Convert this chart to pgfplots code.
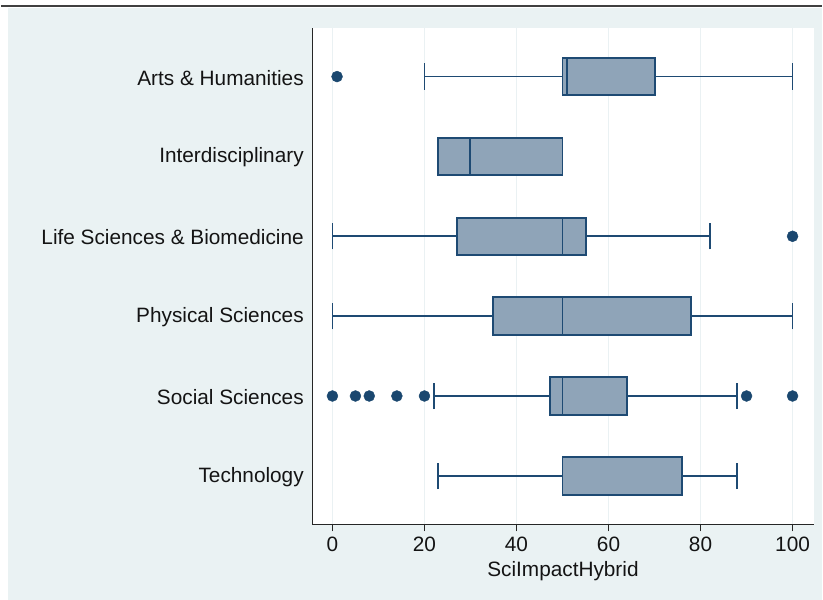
\documentclass[border=0pt]{standalone}
\usepackage{pgfplots}
\usepgfplotslibrary{statistics}
\pgfplotsset{compat=1.18}
\usepackage{fontspec}
\setmainfont{Liberation Sans}

\definecolor{bgc}{RGB}{234,242,243}
\definecolor{gridc}{RGB}{234,241,243}
\definecolor{edgec}{RGB}{30,74,115}
\definecolor{boxc}{RGB}{143,164,184}
\definecolor{dotc}{RGB}{26,71,111}

\begin{document}
\begin{tikzpicture}
% page and Stata-style outer region
\fill[white] (0,0) rectangle (823bp,601bp);
\fill[bgc] (7bp,0) rectangle (823bp,592.6bp);
\draw[line width=1.6bp, color=black!75] (0,594.8bp) -- (823bp,594.8bp);

\begin{axis}[
    at={(312bp,75.5bp)},
    anchor=south west,
    scale only axis,
    width=502.5bp,
    height=497.4bp,
    xmin=-4.40, xmax=104.6,
    ymin=0.391, ymax=6.608,
    axis x line*=bottom,
    axis y line*=left,
    axis line style={line width=0.9bp, color=black!85},
    axis background/.style={fill=white},
    xtick={0,20,40,60,80,100},
    ytick={1,2,3,4,5,6},
    yticklabels={Technology, Social Sciences, Physical Sciences, Life Sciences \& Biomedicine, Interdisciplinary, Arts \& Humanities},
    tick align=outside,
    major tick length=7bp,
    xtick style={line width=0.9bp, color=black!85},
    ytick style={draw=none},
    xmajorgrids,
    grid style={line width=1bp, color=gridc},
    tick label style={font=\fontsize{20.9}{24}\selectfont, text=black!92},
    xticklabel style={yshift=-2bp},
    yticklabel style={xshift=2bp, yshift=-1bp},
    /pgf/number format/assume math mode=true,
    xlabel={SciImpactHybrid},
    xlabel style={font=\fontsize{20.9}{24}\selectfont, text=black!92, yshift=-3bp},
    boxplot/draw direction=x,
    boxplot/box extend=0.47,
    boxplot/whisker extend=0.33,
    boxplot/every box/.style={draw=edgec, fill=boxc, line width=2bp},
    boxplot/every median/.style={draw=edgec, line width=2bp},
    boxplot/every whisker/.style={draw=edgec, line width=1.8bp},
]

% Arts & Humanities
\addplot[draw=edgec, line width=1.8bp, boxplot prepared={draw position=6,
    lower whisker=20, lower quartile=50, median=51,
    upper quartile=70, upper whisker=100}] coordinates {};
% Interdisciplinary
\addplot[draw=edgec, line width=1.8bp, boxplot prepared={draw position=5,
    lower whisker=23, lower quartile=23, median=30,
    upper quartile=50, upper whisker=50}] coordinates {};
% Life Sciences & Biomedicine
\addplot[draw=edgec, line width=1.8bp, boxplot prepared={draw position=4,
    lower whisker=0, lower quartile=27, median=50,
    upper quartile=55, upper whisker=82}] coordinates {};
% Physical Sciences
\addplot[draw=edgec, line width=1.8bp, boxplot prepared={draw position=3,
    lower whisker=0, lower quartile=35, median=50,
    upper quartile=78, upper whisker=100}] coordinates {};
% Social Sciences
\addplot[draw=edgec, line width=1.8bp, boxplot prepared={draw position=2,
    lower whisker=22, lower quartile=47.3, median=50,
    upper quartile=64, upper whisker=88}] coordinates {};
% Technology
\addplot[draw=edgec, line width=1.8bp, boxplot prepared={draw position=1,
    lower whisker=23, lower quartile=50, median=50,
    upper quartile=76, upper whisker=88}] coordinates {};

% outside values
\addplot[only marks, mark=*, mark size=5.5bp, color=dotc] coordinates {
    (1,6)
    (100,4)
    (0,2) (5,2) (8,2) (14,2) (20,2) (90,2) (100,2)
};
\end{axis}
\end{tikzpicture}
\end{document}
